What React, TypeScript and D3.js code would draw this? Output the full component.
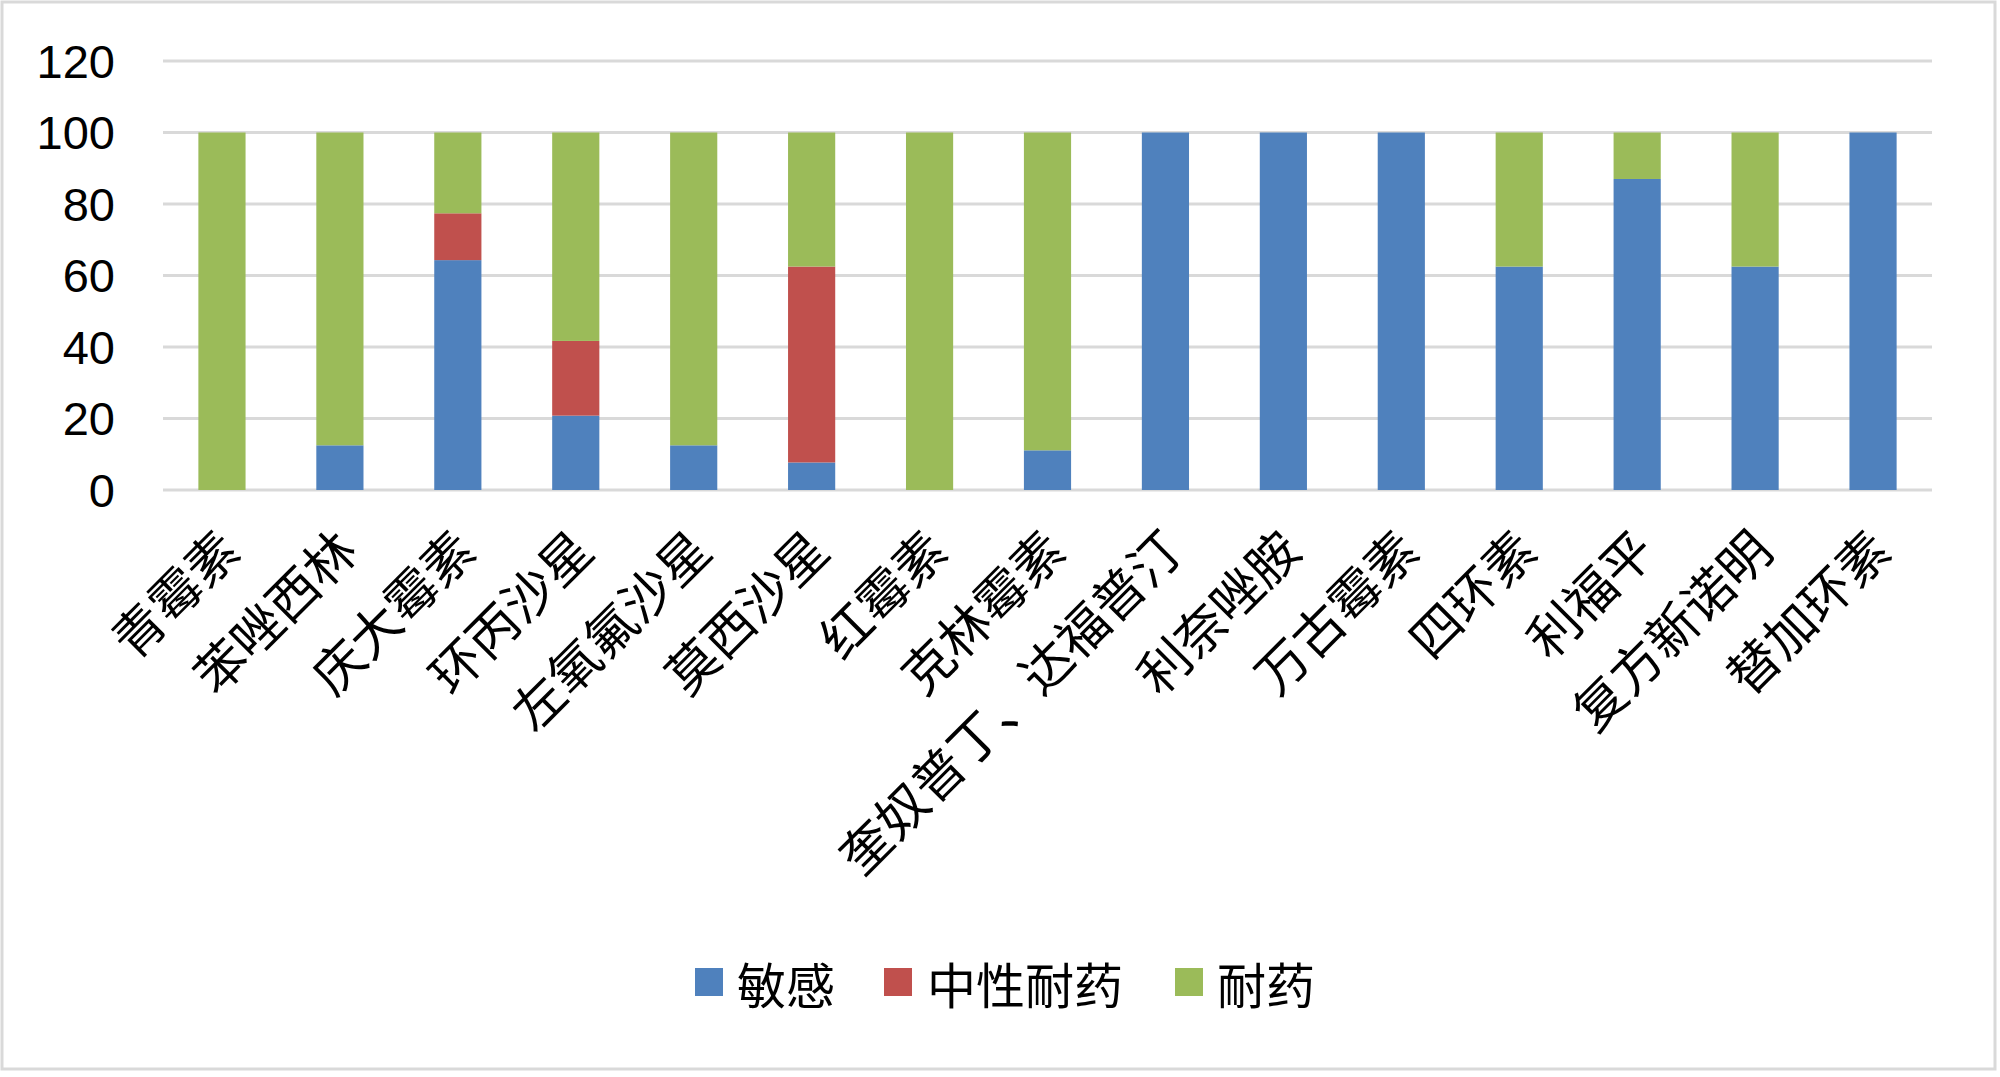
import React from "react";
import * as d3 from "d3";

const categories = [
  "青霉素", "苯唑西林", "庆大霉素", "环丙沙星", "左氧氟沙星", "莫西沙星", "红霉素", "克林霉素",
  "奎奴普丁、达福普汀", "利奈唑胺", "万古霉素", "四环素", "利福平", "复方新诺明", "替加环素",
];
const sensitive = [0, 12.5, 64.3, 20.8, 12.5, 7.7, 0, 11.1, 100, 100, 100, 62.5, 87, 62.5, 100];
const intermediate = [0, 0, 13.1, 20.9, 0, 54.8, 0, 0, 0, 0, 0, 0, 0, 0, 0];
const resistant = [100, 87.5, 22.6, 58.3, 87.5, 37.5, 100, 88.9, 0, 0, 0, 37.5, 13, 37.5, 0];
const seriesNames = ["敏感", "中性耐药", "耐药"];
const seriesColors = ["#4F81BD", "#C0504D", "#9BBB59"];
const yTicks = [0, 20, 40, 60, 80, 100, 120];

const W = 2000;
const H = 1077;
const CJK = "'Noto Sans CJK SC', 'Noto Sans', sans-serif";

export default function App() {
  const x = d3.scaleBand<string>().domain(categories).range([163, 1932]).paddingInner(0.6).paddingOuter(0.3);
  const y = d3.scaleLinear().domain([0, 120]).range([490, 61]);
  const rows = categories.map((c, i) => ({
    cat: c,
    s0: sensitive[i],
    s1: intermediate[i],
    s2: resistant[i],
  }));
  const stack = d3.stack<any>().keys(["s0", "s1", "s2"]);
  const layers = stack(rows);

  const legendItems = [
    { sx: 695, tx: 737 },
    { sx: 884, tx: 927 },
    { sx: 1175, tx: 1217 },
  ];
  const legendY = 982;

  return (
    <svg width={W} height={H} style={{ position: "absolute", left: 0, top: 0, background: "#fff" }}>
      <rect x={2} y={2} width={1993} height={1067} fill="#fff" stroke="#d9d9d9" strokeWidth={3} />
      {yTicks.map((t) => (
        <g key={t}>
          <line x1={163} x2={1932} y1={y(t)} y2={y(t)} stroke="#d9d9d9" strokeWidth={3} />
          <text
            x={115}
            y={y(t)}
            textAnchor="end"
            dominantBaseline="central"
            fontFamily="'Liberation Sans', Arial, sans-serif"
            fontSize={47}
            fill="#000"
          >
            {t}
          </text>
        </g>
      ))}
      {layers.map((layer, li) => (
        <g key={li} fill={seriesColors[li]}>
          {layer.map((d, i) =>
            d[1] - d[0] > 0 ? (
              <rect
                key={i}
                x={x(categories[i])!}
                width={x.bandwidth()}
                y={y(d[1])}
                height={y(d[0]) - y(d[1])}
              />
            ) : null
          )}
        </g>
      ))}
      {categories.map((c) => {
        const cx = x(c)! + x.bandwidth() / 2 + 5;
        const ly = 490 + 48;
        return (
          <text
            key={c}
            x={cx}
            y={ly}
            textAnchor="end"
            dominantBaseline="central"
            transform={`rotate(-45, ${cx}, ${ly})`}
            fontFamily={CJK}
            fontSize={51}
            fill="#000"
          >
            {c}
          </text>
        );
      })}
      {seriesNames.map((n, i) => (
        <g key={n}>
          <rect x={legendItems[i].sx} y={legendY - 14} width={28} height={28} fill={seriesColors[i]} />
          <text
            x={legendItems[i].tx}
            y={legendY}
            dominantBaseline="central"
            fontFamily={CJK}
            fontSize={49}
            fill="#000"
          >
            {n}
          </text>
        </g>
      ))}
    </svg>
  );
}
